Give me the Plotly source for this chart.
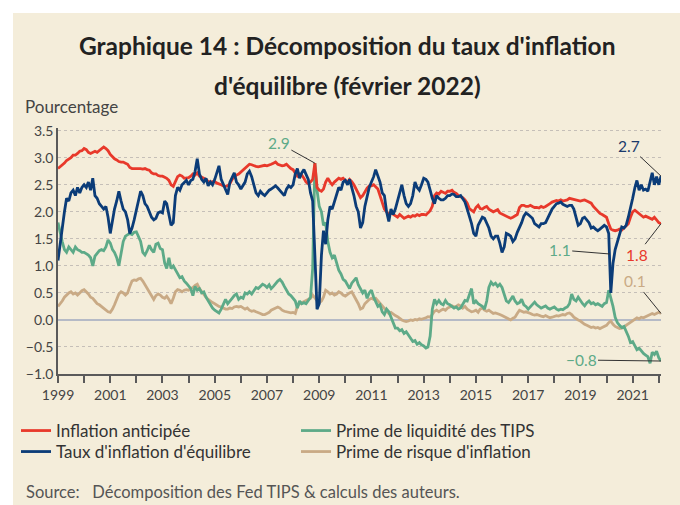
import pandas as pd
import plotly.graph_objects as go

# ---------------- data (monthly, Jan 1999 - Feb 2022) ----------------
red = [  # Inflation anticipée
    2.80, 2.83, 2.87, 2.90, 2.95, 2.97, 3.00, 3.05, 3.05, 3.08, 3.12, 3.13,  # 1999
    3.17, 3.15, 3.10, 3.08, 3.10, 3.12, 3.10, 3.14, 3.18, 3.20, 3.17, 3.13,  # 2000
    3.06, 3.02, 2.98, 2.96, 2.93, 2.92, 2.92, 2.90, 2.88, 2.82, 2.80, 2.80,  # 2001
    2.80, 2.81, 2.80, 2.79, 2.80, 2.78, 2.77, 2.72, 2.70, 2.70, 2.67, 2.66,  # 2002
    2.66, 2.64, 2.62, 2.58, 2.50, 2.47, 2.55, 2.65, 2.68, 2.66, 2.62, 2.62,  # 2003
    2.63, 2.66, 2.70, 2.68, 2.72, 2.66, 2.64, 2.62, 2.60, 2.56, 2.55, 2.56,  # 2004
    2.56, 2.53, 2.52, 2.50, 2.48, 2.47, 2.48, 2.52, 2.60, 2.65, 2.68, 2.70,  # 2005
    2.74, 2.78, 2.82, 2.86, 2.88, 2.87, 2.85, 2.84, 2.83, 2.84, 2.86, 2.86,  # 2006
    2.85, 2.86, 2.88, 2.90, 2.92, 2.88, 2.86, 2.85, 2.86, 2.88, 2.84, 2.80,  # 2007
    2.78, 2.72, 2.66, 2.70, 2.68, 2.62, 2.55, 2.52, 2.55, 2.60, 2.90, 2.45,  # 2008
    2.40, 2.38, 2.42, 2.55, 2.62, 2.55, 2.50, 2.55, 2.58, 2.62, 2.60, 2.62,  # 2009
    2.58, 2.55, 2.60, 2.56, 2.50, 2.42, 2.32, 2.26, 2.30, 2.38, 2.44, 2.48,  # 2010
    2.48, 2.50, 2.46, 2.42, 2.30, 2.15, 2.05, 2.00, 1.95, 1.98, 1.95, 1.92,  # 2011
    1.90, 1.95, 1.92, 1.88, 1.90, 1.92, 1.90, 1.93, 1.92, 1.95, 1.93, 1.95,  # 2012
    1.95, 1.94, 1.98, 2.02, 2.10, 2.30, 2.35, 2.33, 2.38, 2.36, 2.34, 2.38,  # 2013
    2.38, 2.40, 2.36, 2.34, 2.30, 2.28, 2.26, 2.22, 2.16, 2.06, 2.02, 2.00,  # 2014
    2.08, 2.12, 2.06, 2.05, 2.08, 2.10, 2.05, 2.02, 2.00, 2.02, 2.04, 1.98,  # 2015
    1.96, 1.94, 1.92, 1.90, 1.88, 1.90, 1.93, 1.95, 2.08, 2.12, 2.12, 2.10,  # 2016
    2.10, 2.12, 2.10, 2.08, 2.08, 2.07, 2.10, 2.08, 2.10, 2.12, 2.15, 2.18,  # 2017
    2.20, 2.21, 2.20, 2.22, 2.20, 2.21, 2.22, 2.25, 2.24, 2.22, 2.21, 2.20,  # 2018
    2.20, 2.21, 2.22, 2.20, 2.18, 2.16, 2.10, 2.05, 2.00, 1.97, 1.95, 1.93,  # 2019
    1.90, 1.78, 1.68, 1.66, 1.65, 1.66, 1.68, 1.66, 1.70, 1.74, 1.78, 1.90,  # 2020
    2.00, 2.03, 2.00, 1.95, 1.92, 1.90, 1.92, 1.90, 1.88, 1.86, 1.90, 1.84,  # 2021
    1.80, 1.78,                                                              # 2022
]

blue = [  # Taux d'inflation d'équilibre
    1.10, 1.45, 1.65, 2.00, 2.25, 2.20, 2.35, 2.40, 2.30, 2.45, 2.35, 2.45,  # 1999
    2.50, 2.45, 2.55, 2.40, 2.62, 2.30, 2.25, 2.15, 2.10, 2.05, 2.10, 1.90,  # 2000
    1.60, 1.85, 2.05, 2.20, 2.38, 2.20, 2.05, 2.00, 1.85, 1.60, 1.70, 1.85,  # 2001
    2.05, 2.20, 2.38, 2.30, 2.15, 2.10, 2.00, 1.90, 1.85, 1.88, 1.98, 2.00,  # 2002
    1.98, 2.20, 2.15, 1.95, 1.75, 1.80, 2.30, 2.45, 2.40, 2.50, 2.55, 2.58,  # 2003
    2.50, 2.58, 2.60, 2.75, 2.98, 2.70, 2.60, 2.55, 2.62, 2.48, 2.55, 2.50,  # 2004
    2.60, 2.72, 2.85, 2.60, 2.50, 2.40, 2.32, 2.55, 2.65, 2.72, 2.55, 2.50,  # 2005
    2.42, 2.48, 2.55, 2.70, 2.75, 2.65, 2.50, 2.35, 2.30, 2.38, 2.33, 2.30,  # 2006
    2.35, 2.40, 2.42, 2.45, 2.48, 2.44, 2.40, 2.35, 2.30, 2.42, 2.48, 2.45,  # 2007
    2.50, 2.70, 2.80, 2.62, 2.72, 2.78, 2.70, 2.60, 2.35, 2.20, 1.20, 0.20,  # 2008
    0.30, 1.20, 1.65, 1.40, 1.85, 2.10, 2.05, 2.20, 2.35, 2.45, 2.40, 2.55,  # 2009
    2.58, 2.50, 2.60, 2.45, 2.30, 2.10, 2.00, 1.70, 1.80, 2.10, 2.30, 2.45,  # 2010
    2.55, 2.65, 2.78, 2.65, 2.55, 2.35, 2.30, 2.00, 1.82, 2.05, 1.95, 2.05,  # 2011
    2.20, 2.35, 2.50, 2.30, 2.15, 2.10, 2.15, 2.30, 2.55, 2.45, 2.40, 2.50,  # 2012
    2.62, 2.60, 2.55, 2.40, 2.25, 2.15, 2.30, 2.25, 2.22, 2.22, 2.25, 2.30,  # 2013
    2.30, 2.33, 2.32, 2.28, 2.28, 2.30, 2.25, 2.18, 2.05, 1.92, 1.78, 1.60,  # 2014
    1.55, 1.75, 1.82, 1.90, 1.88, 1.80, 1.70, 1.55, 1.50, 1.55, 1.55, 1.42,  # 2015
    1.25, 1.35, 1.60, 1.58, 1.55, 1.45, 1.50, 1.62, 1.70, 1.80, 1.92, 1.98,  # 2016
    1.95, 1.92, 1.88, 1.78, 1.75, 1.72, 1.78, 1.78, 1.80, 1.88, 1.95, 2.05,  # 2017
    2.10, 2.15, 2.16, 2.18, 2.14, 2.12, 2.10, 2.12, 2.12, 2.05, 1.90, 1.75,  # 2018
    1.78, 1.88, 1.90, 1.85, 1.80, 1.70, 1.72, 1.68, 1.65, 1.68, 1.72, 1.75,  # 2019
    1.72, 1.60, 0.50, 1.05, 1.30, 1.45, 1.60, 1.72, 1.70, 1.75, 1.90, 2.05,  # 2020
    2.25, 2.45, 2.58, 2.40, 2.50, 2.40, 2.42, 2.38, 2.55, 2.72, 2.50, 2.65,  # 2021
    2.50, 2.66,                                                              # 2022
]

green = [  # Prime de liquidité des TIPS
    1.80, 1.60, 1.45, 1.30, 1.25, 1.35, 1.30, 1.25, 1.35, 1.30, 1.28, 1.25,  # 1999
    1.25, 1.22, 1.20, 1.15, 1.00, 1.18, 1.22, 1.28, 1.30, 1.28, 1.35, 1.48,  # 2000
    1.42, 1.30, 1.25, 1.15, 1.00, 1.22, 1.45, 1.55, 1.58, 1.60, 1.58, 1.62,  # 2001
    1.63, 1.55, 1.45, 1.25, 1.20, 1.28, 1.38, 1.30, 1.25, 1.40, 1.42, 1.32,  # 2002
    1.30, 1.05, 0.95, 1.15, 0.95, 1.00, 0.92, 0.85, 0.78, 0.80, 0.72, 0.68,  # 2003
    0.62, 0.58, 0.45, 0.62, 0.55, 0.58, 0.50, 0.52, 0.42, 0.35, 0.30, 0.22,  # 2004
    0.18, 0.15, 0.13, 0.20, 0.28, 0.38, 0.30, 0.36, 0.40, 0.45, 0.48, 0.38,  # 2005
    0.42, 0.40, 0.50, 0.48, 0.52, 0.48, 0.55, 0.60, 0.58, 0.62, 0.66, 0.64,  # 2006
    0.60, 0.65, 0.58, 0.62, 0.68, 0.72, 0.75, 0.70, 0.62, 0.55, 0.48, 0.45,  # 2007
    0.40, 0.35, 0.22, 0.35, 0.30, 0.32, 0.30, 0.35, 0.42, 0.95, 2.90, 2.40,  # 2008
    2.10, 2.00, 1.75, 1.80, 1.45, 1.25, 1.15, 1.20, 1.05, 0.92, 0.85, 0.75,  # 2009
    0.72, 0.65, 0.58, 0.68, 0.72, 0.78, 0.65, 0.58, 0.50, 0.55, 0.40, 0.50,  # 2010
    0.55, 0.42, 0.35, 0.25, 0.28, 0.15, 0.10, 0.20, 0.15, 0.05, -0.05, -0.15,  # 2011
    -0.15, -0.20, -0.18, -0.25, -0.22, -0.28, -0.35, -0.40, -0.38, -0.45, -0.42, -0.46,  # 2012
    -0.48, -0.52, -0.50, -0.30, 0.20, 0.38, 0.30, 0.36, 0.30, 0.28, 0.36, 0.30,  # 2013
    0.28, 0.25, 0.22, 0.24, 0.20, 0.22, 0.30, 0.36, 0.35, 0.45, 0.58, 0.30,  # 2014
    0.35, 0.30, 0.28, 0.25, 0.20, 0.35, 0.60, 0.70, 0.65, 0.68, 0.62, 0.66,  # 2015
    0.60, 0.45, 0.35, 0.32, 0.38, 0.44, 0.35, 0.30, 0.32, 0.38, 0.28, 0.25,  # 2016
    0.20, 0.25, 0.30, 0.33, 0.28, 0.25, 0.22, 0.24, 0.26, 0.22, 0.20, 0.22,  # 2017
    0.24, 0.20, 0.18, 0.20, 0.19, 0.22, 0.24, 0.30, 0.48, 0.38, 0.35, 0.42,  # 2018
    0.35, 0.30, 0.26, 0.32, 0.35, 0.30, 0.32, 0.28, 0.30, 0.28, 0.25, 0.30,  # 2019
    0.32, 0.55, 0.42, 0.25, 0.05, -0.05, -0.10, -0.14, -0.12, -0.20, -0.30, -0.42,  # 2020
    -0.40, -0.48, -0.55, -0.52, -0.58, -0.62, -0.65, -0.68, -0.80, -0.60, -0.64, -0.58,  # 2021
    -0.70, -0.76,                                                            # 2022
]

tan = [  # Prime de risque d'inflation
    0.25, 0.30, 0.35, 0.42, 0.46, 0.50, 0.52, 0.48, 0.50, 0.46, 0.50, 0.54,  # 1999
    0.56, 0.52, 0.48, 0.42, 0.40, 0.35, 0.30, 0.28, 0.25, 0.22, 0.18, 0.15,  # 2000
    0.14, 0.20, 0.28, 0.40, 0.48, 0.52, 0.50, 0.46, 0.50, 0.62, 0.72, 0.74,  # 2001
    0.73, 0.76, 0.77, 0.72, 0.65, 0.60, 0.52, 0.44, 0.38, 0.45, 0.48, 0.46,  # 2002
    0.42, 0.40, 0.44, 0.38, 0.30, 0.40, 0.52, 0.56, 0.55, 0.52, 0.55, 0.56,  # 2003
    0.55, 0.58, 0.60, 0.64, 0.66, 0.58, 0.52, 0.46, 0.42, 0.38, 0.34, 0.32,  # 2004
    0.30, 0.27, 0.25, 0.24, 0.22, 0.20, 0.20, 0.22, 0.21, 0.24, 0.25, 0.24,  # 2005
    0.25, 0.22, 0.20, 0.22, 0.18, 0.16, 0.17, 0.15, 0.14, 0.12, 0.10, 0.10,  # 2006
    0.12, 0.14, 0.18, 0.20, 0.22, 0.24, 0.22, 0.18, 0.16, 0.15, 0.14, 0.13,  # 2007
    0.14, 0.12, 0.25, 0.30, 0.32, 0.34, 0.36, 0.38, 0.40, 0.46, 0.40, 0.36,  # 2008
    0.32, 0.35, 0.42, 0.55, 0.52, 0.48, 0.50, 0.46, 0.48, 0.52, 0.50, 0.46,  # 2009
    0.44, 0.48, 0.50, 0.52, 0.45, 0.36, 0.30, 0.20, 0.22, 0.30, 0.34, 0.38,  # 2010
    0.40, 0.38, 0.40, 0.35, 0.30, 0.26, 0.22, 0.15, 0.12, 0.14, 0.10, 0.08,  # 2011
    0.06, 0.02, 0.00, -0.02, -0.03, -0.02, 0.00, -0.01, 0.01, 0.00, 0.02, 0.01,  # 2012
    0.02, 0.04, 0.06, 0.05, 0.10, 0.16, 0.18, 0.15, 0.18, 0.20, 0.18, 0.22,  # 2013
    0.24, 0.26, 0.24, 0.25, 0.28, 0.26, 0.22, 0.25, 0.20, 0.18, 0.15, 0.16,  # 2014
    0.18, 0.14, 0.20, 0.22, 0.18, 0.16, 0.18, 0.15, 0.12, 0.13, 0.12, 0.10,  # 2015
    0.08, 0.06, 0.04, 0.02, 0.00, 0.03, 0.05, 0.12, 0.18, 0.16, 0.14, 0.15,  # 2016
    0.14, 0.12, 0.10, 0.09, 0.10, 0.08, 0.07, 0.06, 0.08, 0.06, 0.04, 0.05,  # 2017
    0.06, 0.08, 0.07, 0.08, 0.10, 0.09, 0.12, 0.13, 0.10, 0.05, 0.02, 0.00,  # 2018
    -0.02, -0.06, -0.08, -0.10, -0.12, -0.14, -0.13, -0.15, -0.14, -0.16, -0.14, -0.12,  # 2019
    -0.10, -0.05, -0.02, -0.08, -0.12, -0.14, -0.16, -0.15, -0.14, -0.10, -0.07, -0.04,  # 2020
    0.00, 0.03, 0.04, 0.02, 0.05, 0.04, 0.06, 0.08, 0.10, 0.12, 0.10, 0.12,  # 2021
    0.14, 0.12,                                                              # 2022
]

names = {
    "red": "Inflation anticipée",
    "blue": "Taux d'inflation d'équilibre",
    "green": "Prime de liquidité des TIPS",
    "tan": "Prime de risque d'inflation",
}
y_ticks = [-1.0, -0.5, 0.0, 0.5, 1.0, 1.5, 2.0, 2.5, 3.0, 3.5]
x_label_years = list(range(1999, 2022, 2))
x_tick_years = list(range(1999, 2023))

# ---------------- style ----------------
CREAM = "#F4EDDA"
C_RED = "#E8392B"
C_BLUE = "#0B3C78"
C_GREEN = "#5DAA88"
C_TAN = "#C9AA85"
FONT = "Lato, 'Open Sans', sans-serif"


def dates_for(series):
    return pd.date_range("1999-01-01", periods=len(series), freq="MS")


fig = go.Figure()
# drawing order: tan, green, red, blue (blue on top)
# legend row 1: red, green ; legend row 2: blue, tan
for key, series, color, leg, rank in [
    ("tan", tan, C_TAN, "legend2", 2),
    ("green", green, C_GREEN, "legend", 2),
    ("red", red, C_RED, "legend", 1),
    ("blue", blue, C_BLUE, "legend2", 1),
]:
    fig.add_trace(go.Scatter(
        x=dates_for(series), y=series, mode="lines", name=names[key],
        line=dict(color=color, width=2.8), legend=leg, legendrank=rank,
        hoverinfo="skip",
    ))

fig.update_xaxes(
    type="date", range=["1999-01-01", "2022-02-01"],
    tickmode="array",
    tickvals=[f"{y}-01-01" for y in x_label_years],
    ticktext=[str(y) for y in x_label_years],
    ticks="outside", ticklen=7, tickwidth=1.5, tickcolor="#5a5a5a",
    minor=dict(tickmode="array", tickvals=[f"{y}-01-01" for y in x_tick_years],
               ticks="outside", ticklen=7, tickwidth=1.5, tickcolor="#5a5a5a",
               showgrid=False),
    showline=True, linecolor="#5a5a5a", linewidth=1.5,
    showgrid=False, zeroline=False,
    tickfont=dict(size=14, color="#444"),
)
fig.update_yaxes(
    range=[-1.0, 3.55], tickmode="array", tickvals=y_ticks,
    tickformat=".1f", ticks="",
    showline=True, linecolor="#5a5a5a", linewidth=1.5,
    showgrid=True, gridcolor="#c5bfb8", gridwidth=1, griddash="3px,3px",
    zeroline=True, zerolinecolor="#b5bac6", zerolinewidth=1.5,
    tickfont=dict(size=14, color="#444"),
)


def py(p):  # pixel row -> paper y
    return (374 - p) / 246.0


def px(p):  # pixel column -> paper x
    return (p - 58) / 603.0


TITLE_FONT = dict(family=FONT, size=24.5, color="#222", weight="bold")
annotations = [
    dict(text="Graphique 14\u202f: Décomposition du taux d'inflation",
         x=px(347), y=py(45), xref="paper", yref="paper",
         xanchor="center", yanchor="middle", showarrow=False, font=TITLE_FONT),
    dict(text="d'équilibre (février 2022)",
         x=px(347), y=py(85), xref="paper", yref="paper",
         xanchor="center", yanchor="middle", showarrow=False, font=TITLE_FONT),
    dict(text="Pourcentage", x=px(23), y=py(107), xref="paper", yref="paper",
         xanchor="left", yanchor="middle", showarrow=False,
         font=dict(family=FONT, size=17, color="#444")),
    dict(text="Source:\u00a0\u00a0\u00a0Décomposition des Fed TIPS & calculs des auteurs.",
         x=px(24), y=py(492), xref="paper", yref="paper",
         xanchor="left", yanchor="middle", showarrow=False,
         font=dict(family=FONT, size=16.5, color="#555")),
]

# value call-outs with leader lines
g_dates = dates_for(green)
g_peak = max(range(len(green)), key=lambda i: green[i])
callouts = [
    ("2.9", g_dates[g_peak], green[g_peak], -36, -20, C_GREEN),
    ("2.7", dates_for(blue)[-1], blue[-1], -32, -30, "#1B3A6B"),
    ("1.8", dates_for(red)[-1], red[-1], -24, 31, C_RED),
    ("0.1", dates_for(tan)[-1], tan[-1], -26, -32, C_TAN),
    ("\u22120.8", dates_for(green)[-1], green[-1], -80, -1, C_GREEN),
    ("1.1", pd.Timestamp("2020-02-15"), 1.22, -50, -4, C_GREEN),
]
for txt, xd, yv, ax, ay, col in callouts:
    annotations.append(dict(
        text=txt, x=xd, y=yv, xref="x", yref="y", ax=ax, ay=ay,
        showarrow=True, arrowhead=0, arrowwidth=1, arrowcolor="#333",
        font=dict(family=FONT, size=15.5, color=col),
    ))

shapes = [
    dict(type="rect", xref="paper", yref="paper", x0=px(0), x1=px(680),
         y0=py(0), y1=py(13), fillcolor="white", line=dict(width=0), layer="above"),
    dict(type="rect", xref="paper", yref="paper", x0=px(0), x1=px(13),
         y0=py(0), y1=py(505), fillcolor="white", line=dict(width=0), layer="above"),
]

LEG = dict(orientation="h", xanchor="left", yanchor="middle",
           entrywidth=235, entrywidthmode="pixels", itemwidth=30,
           font=dict(family=FONT, size=17, color="#333"),
           bgcolor="rgba(0,0,0,0)", traceorder="normal")

fig.update_layout(
    width=680, height=505,
    margin=dict(l=58, r=19, t=128, b=131),
    paper_bgcolor=CREAM, plot_bgcolor=CREAM,
    font=dict(family=FONT, size=14, color="#444"),
    showlegend=True,
    legend=dict(LEG, x=px(16), y=py(431)),
    legend2=dict(LEG, x=px(16), y=py(452)),
    annotations=annotations,
    shapes=shapes,
)

fig.write_html("out.html", config={"displayModeBar": False},
               post_script="document.body.style.margin='0px';")
